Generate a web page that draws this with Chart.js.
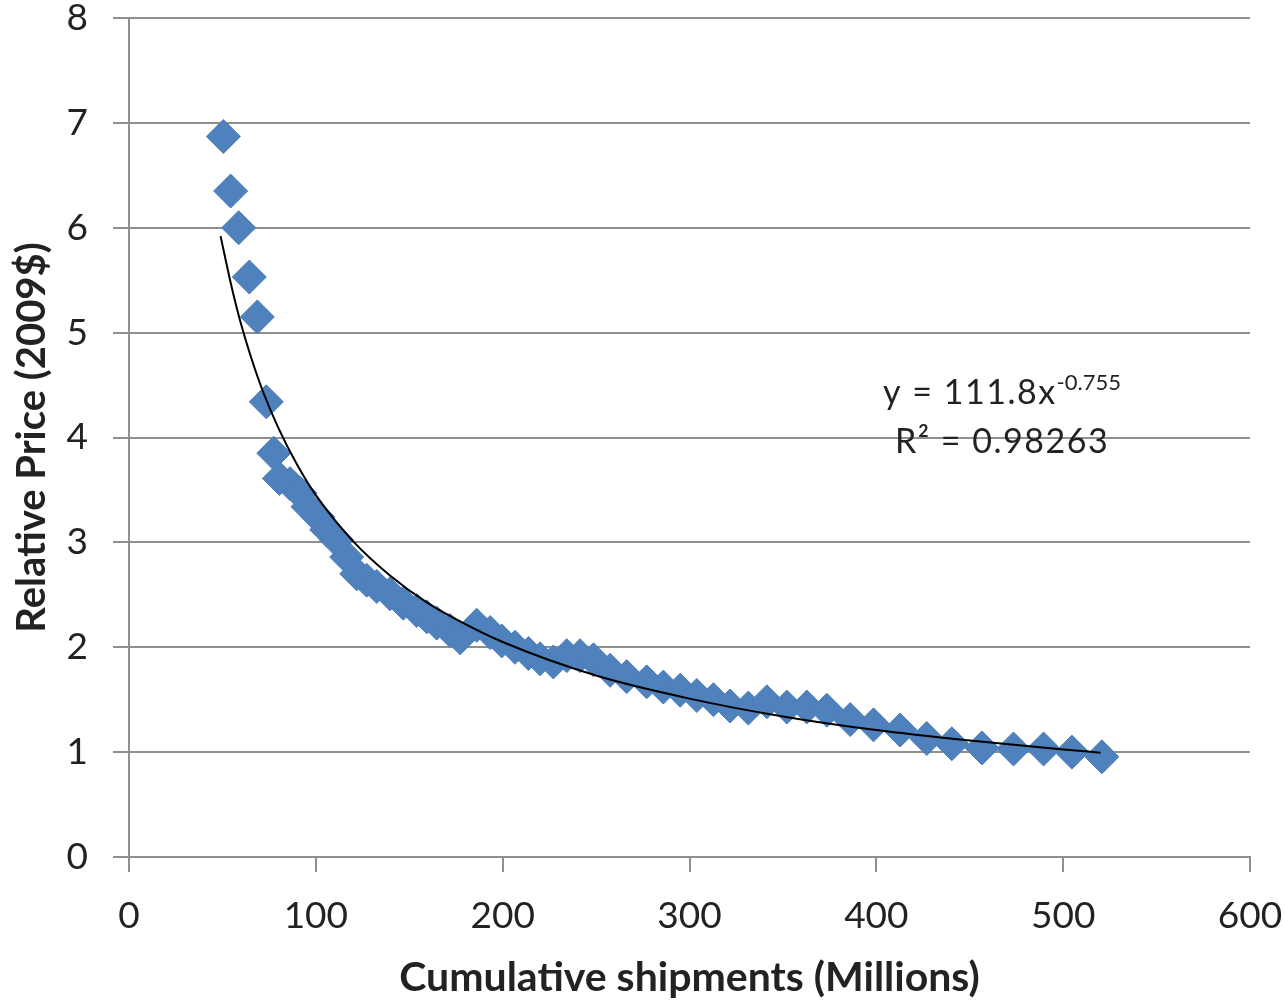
<!DOCTYPE html>
<html>
<head>
<meta charset="utf-8">
<script src="https://cdn.jsdelivr.net/npm/chart.js@4.4.1/dist/chart.umd.min.js"></script>
<style>
html,body{margin:0;padding:0;background:#fff;}
#wrap{width:1285px;height:1004px;position:relative;}
</style>
</head>
<body>
<div id="wrap"><canvas id="c" width="1285" height="1004"></canvas></div>
<script>
// Cumulative shipments (Millions)
const shipments = [50.5, 54.4, 58.7, 64.4, 68.7, 73.5, 77.5, 80.5, 86.2, 91.5, 95.8, 101.2, 105.8, 111.2, 116.5, 121.9, 127.2, 132.6, 139.7, 146.8, 154.0, 159.4, 164.7, 171.8, 177.2, 186.1, 193.3, 199.5, 206.6, 213.8, 220.0, 227.1, 234.3, 241.4, 248.6, 257.5, 266.4, 277.1, 286.0, 295.0, 303.9, 312.8, 321.7, 331.5, 341.4, 352.1, 362.8, 373.5, 386.0, 398.5, 412.7, 427.0, 440.4, 456.5, 473.4, 489.5, 504.7, 520.7];
// Relative Price (2009$)
const prices = [6.87, 6.35, 6.00, 5.53, 5.15, 4.34, 3.85, 3.61, 3.56, 3.47, 3.34, 3.24, 3.12, 3.02, 2.86, 2.70, 2.64, 2.58, 2.51, 2.42, 2.35, 2.29, 2.23, 2.16, 2.09, 2.21, 2.14, 2.06, 2.00, 1.94, 1.89, 1.86, 1.92, 1.92, 1.88, 1.78, 1.72, 1.67, 1.62, 1.59, 1.54, 1.50, 1.44, 1.42, 1.48, 1.43, 1.43, 1.40, 1.31, 1.26, 1.21, 1.13, 1.08, 1.04, 1.03, 1.03, 1.00, 0.955];
// Power trendline
const trendX = [49, 55, 60, 70, 80, 90, 100, 120, 140, 160, 180, 200, 250, 300, 350, 400, 450, 500, 520];
const trendY = [5.92, 5.43, 5.08, 4.52, 4.09, 3.74, 3.45, 3.01, 2.68, 2.42, 2.22, 2.05, 1.73, 1.51, 1.34, 1.21, 1.11, 1.025, 0.995];
const xTicks = [0, 100, 200, 300, 400, 500, 600];
const yTicks = [0, 1, 2, 3, 4, 5, 6, 7, 8];
const xTitle = 'Cumulative shipments (Millions)';
const yTitle = 'Relative Price (2009$)';
const eqMain = 'y = 111.8x';
const eqExp = '-0.755';
const r2Text = 'R\u00B2 = 0.98263';

const FONT = 'Lato, "Open Sans", sans-serif';
const GRID = '#8f8f8f';

const scatterData = shipments.map((x, i) => ({x: x, y: prices[i]}));
const trendData = trendX.map((x, i) => ({x: x, y: trendY[i]}));

const eqPlugin = {
  id: 'eq',
  afterDatasetsDraw(chart) {
    const ctx = chart.ctx;
    const xs = chart.scales.x, ys = chart.scales.y;
    const cx = xs.getPixelForValue(467.3);
    ctx.save();
    ctx.fillStyle = '#222';
    ctx.textBaseline = 'alphabetic';
    ctx.font = '34px ' + FONT;
    ctx.letterSpacing = '1.5px';
    const w1 = ctx.measureText(eqMain).width;
    ctx.font = '22px ' + FONT;
    ctx.letterSpacing = '0px';
    const w2 = ctx.measureText(eqExp).width;
    const sx = cx - (w1 + w2) / 2;
    const b1 = ys.getPixelForValue(4.318);
    ctx.textAlign = 'left';
    ctx.font = '34px ' + FONT;
    ctx.letterSpacing = '1.5px';
    ctx.fillText(eqMain, sx, b1);
    ctx.font = '22px ' + FONT;
    ctx.letterSpacing = '0px';
    ctx.fillText(eqExp, sx + w1, b1 - 14);
    ctx.font = '34px ' + FONT;
    ctx.letterSpacing = '1.5px';
    const w3 = ctx.measureText(r2Text).width;
    ctx.fillText(r2Text, cx - w3 / 2, ys.getPixelForValue(3.851));
    ctx.restore();
  }
};

function zeroPad(s) { s.paddingTop = 0; s.paddingBottom = 0; s.paddingLeft = 0; s.paddingRight = 0; }

new Chart(document.getElementById('c'), {
  type: 'scatter',
  data: {
    datasets: [
      {
        label: 'Trend',
        data: trendData,
        showLine: true,
        borderColor: '#000',
        borderWidth: 2,
        pointRadius: 0,
        fill: false,
        cubicInterpolationMode: 'monotone',
        order: 0
      },
      {
        label: 'Price',
        data: scatterData,
        pointStyle: 'rectRot',
        pointRadius: 17,
        pointHoverRadius: 17,
        backgroundColor: '#4F81BD',
        borderColor: '#4A7EBB',
        borderWidth: 1,
        order: 1
      }
    ]
  },
  options: {
    responsive: false,
    animation: false,
    layout: {padding: {left: 0, right: 35, top: 18, bottom: 0}},
    plugins: {legend: {display: false}, tooltip: {enabled: false}},
    scales: {
      x: {
        type: 'linear',
        min: 0, max: 600,
        afterBuildTicks: (s) => { s.ticks = xTicks.map(v => ({value: v})); },
        afterFit: (s) => { s.height = 147; zeroPad(s); },
        grid: {drawOnChartArea: false, drawTicks: true, tickLength: 15, color: GRID, lineWidth: 2},
        border: {display: true, color: GRID, width: 2},
        ticks: {font: {family: FONT, size: 37}, color: '#222', padding: 22, maxRotation: 0},
        title: {display: true, text: xTitle, font: {family: FONT, size: 41, weight: 'bold'}, color: '#222', padding: {top: 0, bottom: 2}}
      },
      y: {
        type: 'linear',
        min: 0, max: 8,
        afterBuildTicks: (s) => { s.ticks = yTicks.map(v => ({value: v})); },
        afterFit: (s) => { s.width = 129; zeroPad(s); },
        grid: {drawOnChartArea: true, drawTicks: true, tickLength: 16, color: GRID, lineWidth: 2},
        border: {display: true, color: GRID, width: 2},
        ticks: {font: {family: FONT, size: 37, lineHeight: 0.9}, color: '#222', padding: 25},
        title: {display: true, text: yTitle, font: {family: FONT, size: 40, weight: 'bold'}, color: '#222', padding: {top: 8, bottom: 0}}
      }
    }
  },
  plugins: [eqPlugin]
});
</script>
</body>
</html>
